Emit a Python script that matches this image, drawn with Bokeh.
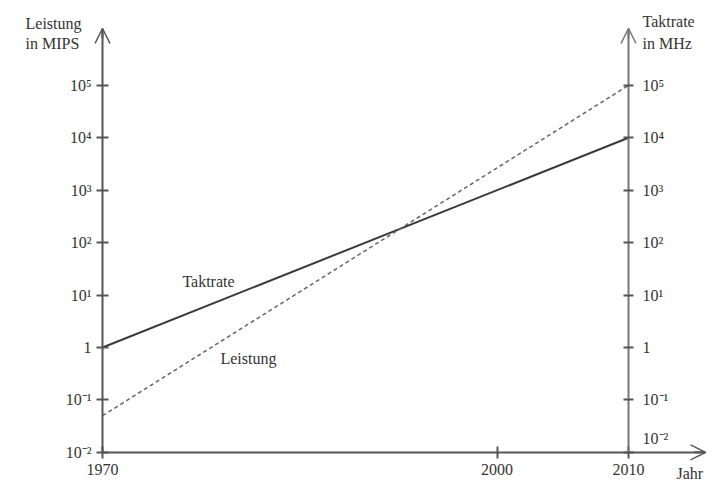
from bokeh.plotting import figure
from bokeh.models import (Range1d, LogAxis, LinearAxis, FixedTicker, Arrow, OpenHead, Label)
from bokeh.embed import file_html
from bokeh.resources import INLINE

# ---- data ----
years = [1970, 2010]
taktrate_mhz = [1, 1e4]        # Taktrate in MHz (solid)
leistung_mips = [0.05, 1e5]    # Leistung in MIPS (dashed)

y_ticks = [1e-2, 1e-1, 1, 1e1, 1e2, 1e3, 1e4, 1e5]
y_tick_labels = ["10\u207b\u00b2", "10\u207b\u00b9", "1", "10\u00b9", "10\u00b2", "10\u00b3", "10\u2074", "10\u2075"]
x_ticks = [1970, 2000, 2010]
x_tick_labels = ["1970", "2000", "2010"]

FONT = "Liberation Serif"
FS = "16px"
AXIS_COL = "#555555"
TXT_COL = "#333333"

p = figure(width=715, height=483,
           x_range=Range1d(1962.243, 2016.616),
           y_range=Range1d(10 ** -2.594, 10 ** 6.618),
           y_axis_type="log", x_axis_location=None, y_axis_location=None,
           min_border=0, toolbar_location=None, output_backend="svg",
           outline_line_color=None)
p.grid.visible = False
p.background_fill_color = "white"
p.border_fill_color = "white"

y_top = 10 ** 6.084
x_right = 2015.86


def style_axis(ax, tick_out, tick_in, standoff):
    ax.axis_line_color = AXIS_COL
    ax.axis_line_width = 2
    ax.major_tick_line_color = AXIS_COL
    ax.major_tick_line_width = 2
    ax.major_tick_out = tick_out
    ax.major_tick_in = tick_in
    ax.minor_tick_line_color = None
    ax.major_label_text_font = FONT
    ax.major_label_text_font_size = FS
    ax.major_label_text_color = TXT_COL
    ax.major_label_standoff = standoff


left_axis = LogAxis(fixed_location=1970, bounds=(1e-2, y_top),
                    ticker=FixedTicker(ticks=y_ticks),
                    major_label_overrides={t: l for t, l in zip(y_ticks, y_tick_labels)})
style_axis(left_axis, 6, 6, 5)
p.add_layout(left_axis, "left")

right_overrides = {t: l for t, l in zip(y_ticks, y_tick_labels)}
right_overrides[1e-2] = ""
right_axis = LogAxis(fixed_location=2010, bounds=(1e-2, y_top),
                     ticker=FixedTicker(ticks=y_ticks),
                     major_label_overrides=right_overrides)
style_axis(right_axis, 5, 5, 9)
right_axis.axis_line_color = "#777777"
p.add_layout(right_axis, "right")

bottom_axis = LinearAxis(fixed_location=1e-2, bounds=(1970, x_right),
                         ticker=FixedTicker(ticks=x_ticks),
                         major_label_overrides={t: l for t, l in zip(x_ticks, x_tick_labels)})
style_axis(bottom_axis, 6, 6, 6)
p.add_layout(bottom_axis, "below")

# arrow heads
for (xs, ys, xe, ye, col) in [(1970, 10 ** 5.9, 1970, y_top, AXIS_COL),
                               (2010, 10 ** 5.9, 2010, y_top, "#777777"),
                               (2015.0, 1e-2, x_right, 1e-2, AXIS_COL)]:
    p.add_layout(Arrow(x_start=xs, y_start=ys, x_end=xe, y_end=ye,
                       line_color=col, line_width=2,
                       end=OpenHead(size=15, line_color=col, line_width=1.5)))

# data lines
p.line(years, taktrate_mhz, line_color="#3a3a3a", line_width=2)
p.line(years, leistung_mips, line_color="#666666", line_width=1.5, line_dash="4 3")

# series labels
p.add_layout(Label(x=1978.06, y=18, text="Taktrate", text_font=FONT, text_font_size=FS,
                   text_color=TXT_COL, text_align="center", text_baseline="middle"))
p.add_layout(Label(x=1981.1, y=0.62, text="Leistung", text_font=FONT, text_font_size=FS,
                   text_color=TXT_COL, text_align="center", text_baseline="middle"))

# axis titles (screen units, y from bottom)
H = 483
for (x, ytop, txt) in [(25, 23, "Leistung"), (25, 43, "in MIPS"),
                       (642, 21, "Taktrate"), (642, 43, "in MHz"),
                       (676, 473, "Jahr")]:
    p.add_layout(Label(x=x, y=H - ytop, x_units="screen", y_units="screen", text=txt,
                       text_font=FONT, text_font_size=FS, text_color=TXT_COL,
                       text_align="left", text_baseline="alphabetic"))

# right 10^-2 label shifted up
p.add_layout(Label(x=642, y=H - 438, x_units="screen", y_units="screen", text="10\u207b\u00b2",
                   text_font=FONT, text_font_size=FS, text_color=TXT_COL,
                   text_align="left", text_baseline="middle"))

open("out.html", "w").write(file_html(p, INLINE))
